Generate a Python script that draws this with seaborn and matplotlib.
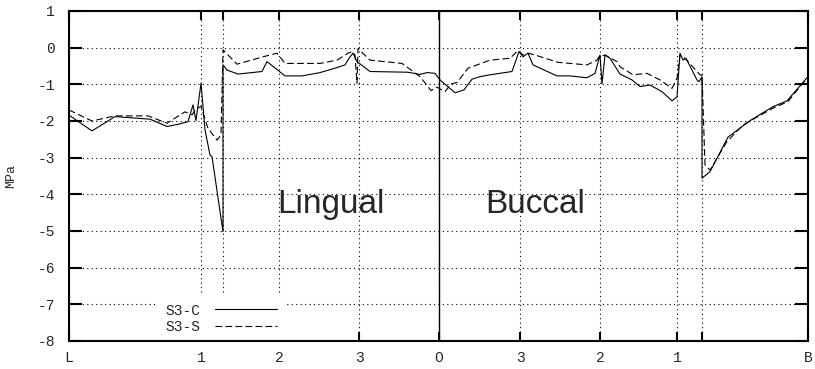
import matplotlib
matplotlib.use("Agg")
import matplotlib.pyplot as plt
import numpy as np
import pandas as pd
import seaborn as sns

# ---- data (position along contour, arbitrary units; stress in MPa) ----
tick_pos = [0, 132, 154, 210, 290, 370, 451, 531, 608, 633, 739]
tick_labels = ["L", "1", "", "2", "3", "O", "3", "2", "1", "", "B"]
y_ticks = [1, 0, -1, -2, -3, -4, -5, -6, -7, -8]
y_tick_labels = ["1", "0", "-1", "-2", "-3", "-4", "-5", "-6", "-7", "-8"]
origin_pos = 370

s3c_pos = [0, 23, 46, 81, 98, 109, 119, 124, 127, 132, 136, 141, 143, 154, 154,
           158, 169, 193, 198, 216, 233, 251, 266, 276, 280, 284, 288, 301,
           339, 351, 358, 366, 371, 386, 395, 403, 411, 421, 443, 450,
           454, 459, 464, 488, 501, 518, 526, 531, 533, 536, 541, 551, 563,
           571, 581, 593, 603, 608, 611, 614, 617, 628, 630, 633, 633,
           641, 659, 681, 704, 718, 739]
s3c_val = [-1.84, -2.27, -1.88, -1.95, -2.15, -2.09, -2.02, -1.56, -1.99, -0.97,
           -2.24, -2.93, -2.97, -5.02, -0.47,
           -0.61, -0.72, -0.65, -0.38, -0.77, -0.77, -0.68, -0.56, -0.47, -0.29,
           -0.15, -0.38, -0.65,
           -0.67, -0.73, -0.68, -0.70, -0.88, -1.23, -1.15, -0.86, -0.79, -0.74,
           -0.65, -0.11,
           -0.25, -0.15, -0.47, -0.77, -0.77, -0.82, -0.70, -0.20, -0.99, -0.20,
           -0.29, -0.72, -0.88,
           -1.06, -1.02, -1.20, -1.45, -1.34, -0.15, -0.34, -0.29, -0.88, -0.93,
           -0.79, -3.56,
           -3.38, -2.44, -1.99, -1.61, -1.45, -0.79]

s3s_pos = [0, 23, 46, 79, 98, 116, 123, 127, 132, 139, 148, 152, 154,
           168, 194, 208, 216, 251, 268, 279, 283, 286, 288, 289, 301,
           333, 351, 362, 368, 376, 382, 388, 399, 421, 441, 449,
           454, 459, 466, 489, 518, 528, 530, 536, 548, 551, 564, 578, 591,
           603, 608, 611, 616, 628, 631, 633, 636, 641, 658, 674, 704, 719, 739]
s3s_val = [-1.70, -2.00, -1.86, -1.86, -2.06, -1.75, -1.83, -1.68, -1.60, -2.20,
           -2.52, -2.38, -0.06,
           -0.45, -0.25, -0.15, -0.43, -0.43, -0.34, -0.15, -0.11, -0.20, -0.97,
           -0.02, -0.34,
           -0.43, -0.79, -1.17, -1.08, -1.20, -0.99, -0.95, -0.56, -0.34, -0.29,
           -0.08,
           -0.20, -0.15, -0.20, -0.40, -0.47, -0.34, -0.25, -0.20, -0.38, -0.52,
           -0.74, -0.70, -0.88,
           -1.11, -0.83, -0.20, -0.29, -0.65, -0.74, -0.74, -3.20, -3.34, -2.56,
           -2.11, -1.65, -1.47, -0.79]

df_c = pd.DataFrame({"pos": s3c_pos, "val": s3c_val})
df_s = pd.DataFrame({"pos": s3s_pos, "val": s3s_val})

# ---- style ----
sns.set_style("white")
plt.rcParams["font.family"] = ["Liberation Mono", "DejaVu Sans Mono"]
plt.rcParams["axes.edgecolor"] = "black"

fig = plt.figure(figsize=(8.15, 3.69), dpi=100)
ax = fig.add_axes([69 / 815, 1 - 341 / 369, 739 / 815, 330 / 369])

sns.lineplot(data=df_c, x="pos", y="val", sort=False, estimator=None,
             color="black", linewidth=0.8, label="S3-C", ax=ax)
sns.lineplot(data=df_s, x="pos", y="val", sort=False, estimator=None,
             color="black", linewidth=0.8, linestyle=(0, (6, 3)),
             label="S3-S", ax=ax)

ax.axvline(origin_pos, color="black", linewidth=1.0, zorder=1.5)

ax.set_xlim(0, 739)
ax.set_ylim(-8, 1)
ax.set_xticks(tick_pos)
ax.set_xticklabels(tick_labels)
ax.set_yticks(y_ticks)
ax.set_yticklabels(y_tick_labels)
ax.set_xlabel("")
ax.set_ylabel("MPa", fontsize=9.5)
ax.yaxis.set_label_coords(-0.070, 0.5)

ax.grid(True, color="black", linestyle=(0, (1, 3)), linewidth=0.8)
ax.set_axisbelow(True)

for sp in ax.spines.values():
    sp.set_linewidth(1.5)
    sp.set_color("black")
    sp.set_zorder(6)

ax.tick_params(axis="x", direction="in", top=True, bottom=True, length=6.5,
               width=1.5, labelsize=10.5, pad=7, color="black")
ax.tick_params(axis="y", direction="in", left=True, right=True, length=9.5,
               width=1.5, labelsize=10.5, pad=10, color="black")

ax.text(262, -4.52, "Lingual", ha="center", va="baseline", fontsize=24,
        family=["Liberation Sans", "DejaVu Sans"])
ax.text(466, -4.52, "Buccal", ha="center", va="baseline", fontsize=24,
        family=["Liberation Sans", "DejaVu Sans"])

leg = ax.legend(loc="lower right", bbox_to_anchor=(0.292, 0.0),
                frameon=True, framealpha=1, facecolor="white", edgecolor="none",
                fancybox=False, markerfirst=False, handlelength=4.3,
                handletextpad=1.0, labelspacing=0.15, borderpad=0.5,
                borderaxespad=0, prop={"family": "Liberation Mono", "size": 10.5})
leg.set_zorder(5)

fig.savefig("out.png", dpi=100)
